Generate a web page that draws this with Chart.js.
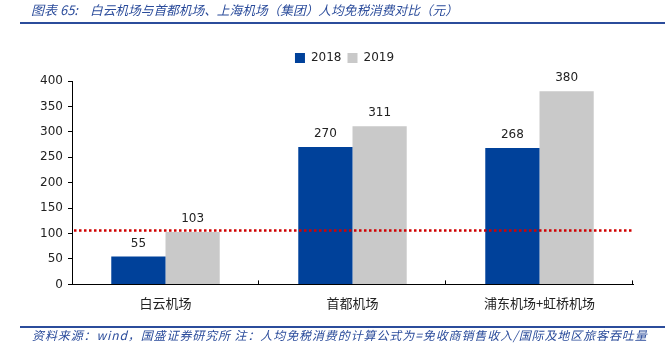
<!DOCTYPE html>
<html>
<head>
<meta charset="utf-8">
<script src="https://cdn.jsdelivr.net/npm/chart.js@4/dist/chart.umd.min.js"></script>
<style>
  html, body { margin: 0; padding: 0; background: #fff; }
  #wrap { width: 670px; height: 351px; position: relative; }
</style>
</head>
<body>
<div id="wrap"><canvas id="chart"></canvas></div>
<script>
// chart data
var airports = ['白云机场', '首都机场', '浦东机场+虹桥机场'];
var vals2018 = [55, 270, 268];
var vals2019 = [103, 311, 380];
var seriesNames = ['2018', '2019'];
var yTicks = [0, 50, 100, 150, 200, 250, 300, 350, 400];
var refLine = 106;

var titlePrefix = '图表 65:';
var titleText = '白云机场与首都机场、上海机场（集团）人均免税消费对比（元）';
var sourceText = '资料来源：wind，国盛证券研究所 注：人均免税消费的计算公式为=免收商销售收入/国际及地区旅客吞吐量';

var blue = '#00419A';
var grey = '#C9C9C9';
var textBlue = '#2B4C9B';
var cjk = '"Noto Sans CJK SC", sans-serif';
var num = '"DejaVu Sans", sans-serif';

// legend: extra room below it, and centred over the plot area
var legendTweak = {
    id: 'legendTweak',
    afterInit: function(chart){
        var lg = chart.legend;
        if(!lg) return;
        var origFit = lg.fit;
        lg.fit = function(){
            origFit.call(this);
            this.height += 7;
        };
    },
    afterLayout: function(chart){
        var lg = chart.legend;
        if(!lg) return;
        lg.left += 18;
        lg.right += 18;
    }
};

// title, footer, ref line, labels
var decorPlugin = {
    id: 'decor',
    afterDatasetsDraw: function(chart){
        var ctx = chart.ctx;
        var x = chart.scales.x, y = chart.scales.y;
        ctx.save();

        // red dotted reference line
        var ry = y.getPixelForValue(refLine);
        ctx.strokeStyle = '#D00000';
        ctx.lineWidth = 2.5;
        ctx.setLineDash([2.5, 2.5]);
        ctx.beginPath();
        ctx.moveTo(x.left + 2, ry);
        ctx.lineTo(x.right, ry);
        ctx.stroke();
        ctx.setLineDash([]);

        // x axis ticks pointing up at category boundaries
        ctx.strokeStyle = '#000';
        ctx.lineWidth = 1;
        for(var i = 1; i <= airports.length; i++){
            var bx = (i < airports.length)
                ? (x.getPixelForValue(i - 1) + x.getPixelForValue(i)) / 2
                : x.right;
            ctx.beginPath();
            ctx.moveTo(Math.round(bx) - 0.5, y.bottom);
            ctx.lineTo(Math.round(bx) - 0.5, y.bottom - 4);
            ctx.stroke();
        }

        // value labels
        ctx.fillStyle = '#222';
        ctx.font = '12px ' + num;
        ctx.textAlign = 'center';
        ctx.textBaseline = 'bottom';
        chart.data.datasets.forEach(function(ds, di){
            chart.getDatasetMeta(di).data.forEach(function(bar, j){
                ctx.fillText(ds.data[j], bar.x, bar.y - 7);
            });
        });

        // title
        ctx.fillStyle = textBlue;
        ctx.textAlign = 'left';
        ctx.textBaseline = 'middle';
        ctx.font = 'italic 13px ' + cjk;
        ctx.fillText(titlePrefix, 31, 10);
        ctx.font = 'italic 12.7px ' + cjk;
        ctx.fillText(titleText, 90, 10);
        ctx.strokeStyle = textBlue;
        ctx.lineWidth = 2;
        ctx.beginPath();
        ctx.moveTo(20, 23);
        ctx.lineTo(665, 23);
        ctx.stroke();

        // footer
        ctx.beginPath();
        ctx.moveTo(20, 327);
        ctx.lineTo(665, 327);
        ctx.stroke();
        ctx.font = 'italic 12px ' + cjk;
        ctx.letterSpacing = '0.9px';
        ctx.fillText(sourceText, 32, 335);
        ctx.letterSpacing = '0px';

        ctx.restore();
    }
};

var ctx = document.getElementById('chart').getContext('2d');
var myChart = new Chart(ctx, {
    type: 'bar',
    data: {
        labels: airports,
        datasets: [{
            label: seriesNames[0],
            data: vals2018,
            backgroundColor: blue,
            categoryPercentage: 0.58,
            barPercentage: 1.0
        }, {
            label: seriesNames[1],
            data: vals2019,
            backgroundColor: grey,
            categoryPercentage: 0.58,
            barPercentage: 1.0
        }]
    },
    options: {
        responsive: true,
        maintainAspectRatio: false,
        animation: false,
        layout: { padding: { top: 46, left: 20, right: 37, bottom: 37 } },
        plugins: {
            legend: {
                position: 'top',
                labels: {
                    boxWidth: 10,
                    boxHeight: 10,
                    padding: 6,
                    color: '#222',
                    font: { family: num, size: 12 }
                }
            },
            tooltip: { enabled: false }
        },
        scales: {
            x: {
                grid: { display: false },
                border: { display: true, color: '#000', width: 1 },
                ticks: {
                    color: '#222',
                    padding: 3,
                    font: { family: cjk, size: 13 }
                }
            },
            y: {
                min: 0,
                max: 400,
                afterBuildTicks: function(axis){
                    axis.ticks = yTicks.map(function(v){ return { value: v }; });
                },
                afterFit: function(axis){
                    axis.width = 52;
                },
                grid: {
                    drawOnChartArea: false,
                    drawTicks: true,
                    tickLength: 4,
                    color: '#000'
                },
                border: { display: true, color: '#000', width: 1 },
                ticks: {
                    color: '#222',
                    padding: 5,
                    font: { family: num, size: 12 }
                }
            }
        }
    },
    plugins: [legendTweak, decorPlugin]
});
</script>
</body>
</html>
